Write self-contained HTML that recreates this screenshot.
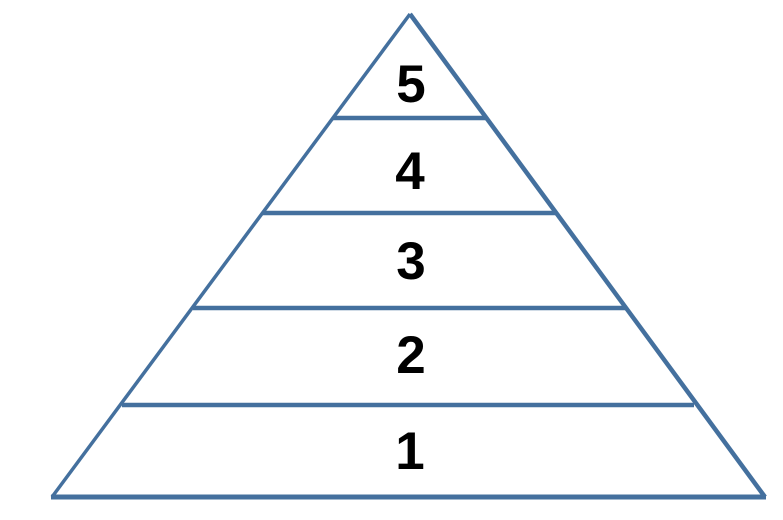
<!DOCTYPE html>
<html><head><style>html,body{margin:0;padding:0;background:#fff;}svg{display:block}</style></head>
<body>
<svg width="783" height="520" viewBox="0 0 783 520" xmlns="http://www.w3.org/2000/svg">
<g stroke="#44709e" fill="none" stroke-linecap="butt">
<line x1="410" y1="14" x2="52" y2="497" stroke-width="3.5"/>
<line x1="410" y1="14" x2="765" y2="497" stroke-width="4.5"/>
<line x1="51" y1="497" x2="766" y2="497" stroke-width="5"/>
<line x1="333" y1="118" x2="487" y2="118" stroke-width="4.5"/>
<line x1="263" y1="213" x2="556" y2="213" stroke-width="4.5"/>
<line x1="193" y1="308" x2="626" y2="308" stroke-width="4.5"/>
<line x1="122" y1="405" x2="694" y2="405" stroke-width="4.5"/>
</g>
<g font-family="Liberation Sans, Arial, sans-serif" font-weight="bold" font-size="53" fill="#000" text-anchor="middle">
<text x="411" y="102">5</text>
<text x="410" y="189">4</text>
<text x="411" y="279">3</text>
<text x="411" y="373">2</text>
<text x="410" y="469">1</text>
</g>
</svg>
</body></html>
